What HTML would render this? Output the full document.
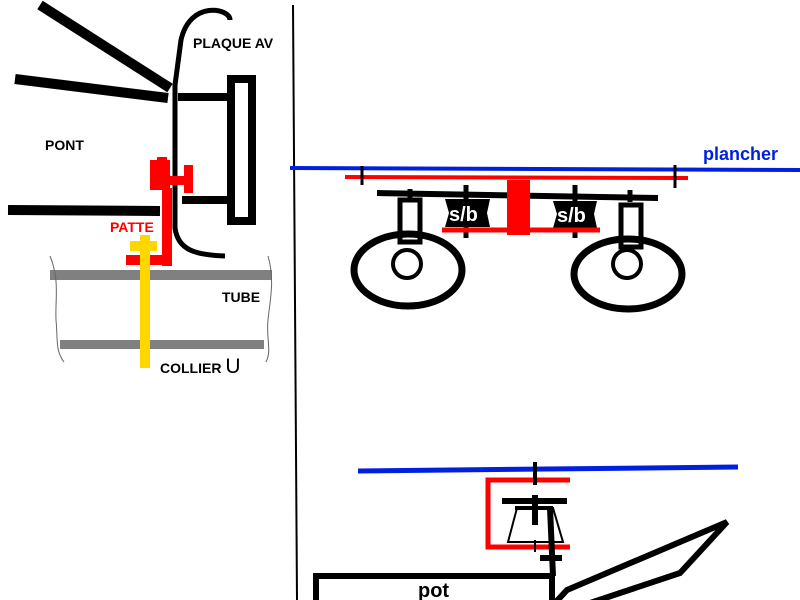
<!DOCTYPE html>
<html><head><style>html,body{margin:0;padding:0;background:#fff}svg{display:block}</style></head>
<body>
<svg width="800" height="600" xmlns="http://www.w3.org/2000/svg" font-family="Liberation Sans, sans-serif" font-weight="bold">
<rect width="800" height="600" fill="#fff"/>
<line x1="40" y1="5" x2="170" y2="88" stroke="#000" stroke-width="10"/>
<line x1="15" y1="79" x2="168" y2="98" stroke="#000" stroke-width="10"/>
<line x1="8" y1="210" x2="160" y2="211" stroke="#000" stroke-width="10"/>
<path d="M230,20 C230,8 190,0 181,40 L175,85 L175,228 C178,250 195,255 225,256" fill="none" stroke="#000" stroke-width="5"/>
<line x1="178" y1="97" x2="230" y2="97" stroke="#000" stroke-width="8"/>
<line x1="182" y1="200" x2="230" y2="200" stroke="#000" stroke-width="8"/>
<rect x="231" y="79" width="21" height="142" fill="none" stroke="#000" stroke-width="8"/>
<rect x="150" y="160" width="20" height="30" fill="#f00"/>
<rect x="157" y="157" width="10" height="10" fill="#f00"/>
<rect x="170" y="176" width="18" height="9" fill="#f00"/>
<rect x="184" y="165" width="9" height="28" fill="#f00"/>
<rect x="162" y="188" width="10" height="78" fill="#f00"/>
<rect x="126" y="255" width="46" height="10" fill="#f00"/>
<rect x="50" y="270" width="222" height="10" fill="#808080"/>
<rect x="60" y="340" width="204" height="9" fill="#808080"/>
<path d="M50,256 C60,280 55,300 56,320 C58,340 55,350 64,362" fill="none" stroke="#666" stroke-width="1"/>
<path d="M268,256 C275,280 270,300 268,320 C266,340 272,350 266,362" fill="none" stroke="#666" stroke-width="1"/>
<rect x="140" y="235" width="10" height="133" fill="#ffd700"/>
<rect x="130" y="241" width="27" height="10" fill="#ffd700"/>
<text x="193" y="48" font-size="14">PLAQUE AV</text>
<text x="45" y="150" font-size="14">PONT</text>
<text x="110" y="232" font-size="14" fill="#f00">PATTE</text>
<text x="222" y="302" font-size="14">TUBE</text>
<text x="160" y="373" font-size="14">COLLIER <tspan font-size="21" font-weight="normal">U</tspan></text>
<line x1="293" y1="5" x2="297" y2="600" stroke="#000" stroke-width="2"/>
<line x1="290" y1="168" x2="800" y2="170" stroke="#0020e0" stroke-width="4"/>
<text x="703" y="160" font-size="18" fill="#0020e0">plancher</text>
<line x1="345" y1="177" x2="688" y2="178" stroke="#f00" stroke-width="4"/>
<line x1="362" y1="166" x2="362" y2="185" stroke="#000" stroke-width="3"/>
<line x1="675" y1="165" x2="675" y2="188" stroke="#000" stroke-width="3"/>
<line x1="377" y1="193" x2="658" y2="198" stroke="#000" stroke-width="6"/>
<g stroke="#000" stroke-width="5">
<line x1="410" y1="189" x2="410" y2="200"/><line x1="466" y1="185" x2="466" y2="238"/>
<line x1="575" y1="185" x2="575" y2="238"/><line x1="630" y1="190" x2="630" y2="202"/>
</g>
<rect x="400" y="200" width="20" height="42" fill="none" stroke="#000" stroke-width="5"/>
<rect x="621" y="205" width="20" height="42" fill="none" stroke="#000" stroke-width="5"/>
<ellipse cx="408" cy="270" rx="54" ry="36" fill="none" stroke="#000" stroke-width="7"/>
<circle cx="407" cy="264" r="14" fill="none" stroke="#000" stroke-width="4"/>
<ellipse cx="628" cy="274" rx="54" ry="35" fill="none" stroke="#000" stroke-width="7"/>
<circle cx="627" cy="264" r="14" fill="none" stroke="#000" stroke-width="4"/>
<polygon points="445,199 490,199 487,213 490,227 445,227 449,213" fill="#000"/>
<polygon points="553,201 597,201 594,214 597,228 553,228 557,214" fill="#000"/>
<text x="449" y="221" font-size="20" fill="#fff">s/b</text>
<text x="557" y="222" font-size="20" fill="#fff">s/b</text>
<line x1="442" y1="230" x2="600" y2="230" stroke="#f00" stroke-width="5"/>
<rect x="507" y="180" width="23" height="55" fill="#f00"/>
<line x1="358" y1="471" x2="738" y2="467" stroke="#0020e0" stroke-width="5"/>
<polyline points="570,480 488,480 488,547 570,547" fill="none" stroke="#f00" stroke-width="5"/>
<line x1="535" y1="462" x2="535" y2="485" stroke="#000" stroke-width="4"/>
<line x1="502" y1="501" x2="567" y2="501" stroke="#000" stroke-width="6"/>
<line x1="515" y1="508" x2="553" y2="508" stroke="#000" stroke-width="4"/>
<line x1="535" y1="495" x2="535" y2="525" stroke="#000" stroke-width="6"/>
<polygon points="517,508 553,508 563,542 508,542" fill="none" stroke="#000" stroke-width="2"/>
<line x1="535" y1="540" x2="535" y2="552" stroke="#000" stroke-width="2"/>
<line x1="550" y1="508" x2="553" y2="576" stroke="#000" stroke-width="6"/>
<line x1="540" y1="558" x2="562" y2="558" stroke="#000" stroke-width="6"/>
<polyline points="316,603 316,576 552,576 552,603" fill="none" stroke="#000" stroke-width="6"/>
<text x="418" y="597" font-size="20">pot</text>
<polygon points="555,603 567,590 727,522 680,573 590,603" fill="#fff" stroke="#000" stroke-width="6"/>
</svg>
</body></html>
